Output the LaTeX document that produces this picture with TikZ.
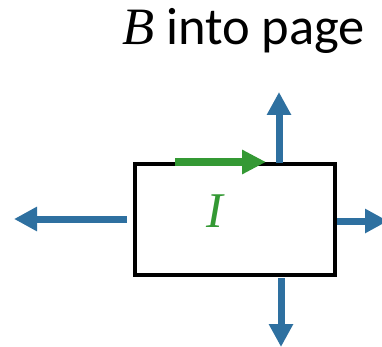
\documentclass[tikz,border=0pt]{standalone}
\usepackage{fontspec}
\setmainfont{Carlito}
\newfontfamily\symfont{Liberation Serif}
\usetikzlibrary{arrows.meta}
\definecolor{fblue}{RGB}{46,112,160}
\definecolor{igreen}{RGB}{52,153,52}
\begin{document}
\begin{tikzpicture}[x=1pt,y=-1pt,
  force/.style={draw=fblue,line width=7pt,-{Triangle[width=23pt,length=23pt]}},
  current/.style={draw=igreen,line width=8pt,-{Triangle[width=23pt,length=24pt]}},
  loop/.style={draw=black,line width=4pt,minimum width=200pt,minimum height=111pt,inner sep=0pt}]
\useasboundingbox (0,0) rectangle (382,347);
\node[loop] (box) at (235,219.5) {};
\node[font=\fontsize{52.5}{52.5}\selectfont, anchor=base west, inner sep=0pt] (title) at (122,45) {{\symfont\itshape B} into page};
\node[font=\fontsize{50}{50}\selectfont\symfont\itshape, text=igreen] (cur) at (215,211) {I};
\coordinate (l0) at (127,219);
\coordinate (l1) at (14,219);
\coordinate (r0) at (337,221);
\coordinate (r1) at (388,221);
\coordinate (t0) at (279,163);
\coordinate (t1) at (279,92);
\coordinate (b0) at (281,278);
\coordinate (b1) at (281,347);
\coordinate (g0) at (175,162);
\coordinate (g1) at (266,162);
\draw[force] (l0) -- (l1);
\draw[force] (r0) -- (r1);
\draw[force] (t0) -- (t1);
\draw[force] (b0) -- (b1);
\draw[current] (g0) -- (g1);
\end{tikzpicture}
\end{document}
